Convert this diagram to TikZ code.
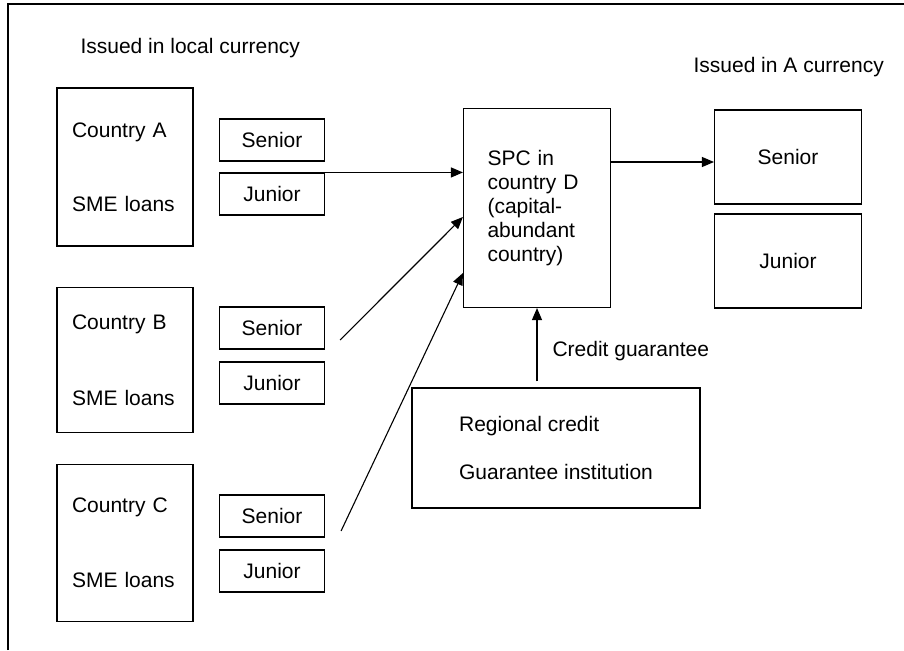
\documentclass[tikz,border=0pt]{standalone}
\usepackage{fontspec}
\setmainfont{Liberation Sans}
\usetikzlibrary{arrows.meta}
\tikzset{flow/.style={-{Triangle[length=12pt,width=10pt]}}}

\begin{document}
\begin{tikzpicture}[x=1pt, y=-1pt, line width=1.1pt,
        every node/.append style={font=\fontsize{21}{24}\selectfont},
        cbox/.style={draw, minimum width=136, text width=106, align=left, inner xsep=15, inner ysep=0},
        tbox/.style={draw, minimum width=105, minimum height=42, inner sep=0},
        obox/.style={draw, minimum width=147, minimum height=94, inner sep=0},
        hdr/.style={anchor=west, inner sep=0}]
        \useasboundingbox (0,0) rectangle (904,650);
        % frame
        \draw (8,650) -- (8,4) -- (904,4);
        % headings
        \node[hdr] (hdrL) at (80,48) {Issued in local currency};
        \node[hdr] (hdrR) at (693,67) {Issued in A currency};
        % countries and their tranches
        \node[cbox, minimum height=158] (ctyA) at (125,167) {Country A\\[50pt]SME loans};
        \node[cbox, minimum height=145] (ctyB) at (125,360) {Country B\\[52pt]SME loans};
        \node[cbox, minimum height=157] (ctyC) at (125,543) {Country C\\[51pt]SME loans};
        \node[tbox] (seA) at (272,140) {Senior};
        \node[tbox] (juA) at (272,194) {Junior};
        \node[tbox] (seB) at (272,328) {Senior};
        \node[tbox] (juB) at (272,383) {Junior};
        \node[tbox] (seC) at (272,516) {Senior};
        \node[tbox] (juC) at (272,571) {Junior};
        % SPC and issued tranches
        \node[draw, minimum width=147, minimum height=199, text width=99, align=left,
            inner xsep=24, inner ysep=0] (spc) at (537,208)
            {SPC in\\country D\\(capital-\\abundant\\country)};
        \node[obox] (soSe) at (788,157) {Senior};
        \node[obox] (soJu) at (788,261) {Junior};
        % guarantee institution
        \node[draw, minimum width=288, minimum height=120, align=left, inner xsep=47,
            inner ysep=0] (reg) at (556,448) {Regional credit\\[24pt]Guarantee institution};
        % flows
        \draw[flow] ([xshift=-7pt]juA.north east) -- (juA.north east -| spc.west);
        \draw[flow] ([xshift=15pt,yshift=-12pt]seB.east) -- ([yshift=-9pt]spc.west);
        \draw[flow] ([xshift=16pt,yshift=-15pt]seC.east) -- ([yshift=-65pt]spc.west);
        \draw[flow] ([yshift=-5pt]soSe.west -| spc.east) -- ([yshift=-5pt]soSe.west);
        \draw[flow] ([yshift=6pt]reg.north -| spc.south) -- (spc.south)
            node[pos=0.42, anchor=west, inner sep=0, xshift=15pt] (lblG) {Credit guarantee};
\end{tikzpicture}
\end{document}
